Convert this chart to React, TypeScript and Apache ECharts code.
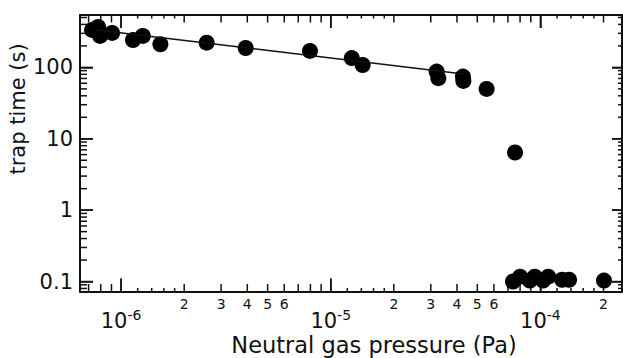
import React, { useEffect, useRef } from "react";
import * as echarts from "echarts";

// ---- data ----
const pressurePa = [
  7.27e-7, 7.77e-7, 7.94e-7, 9.06e-7, 1.14e-6, 1.27e-6, 1.54e-6, 2.56e-6, 3.93e-6,
  7.96e-6, 1.26e-5, 1.42e-5, 3.2e-5, 3.26e-5, 4.27e-5, 4.29e-5, 5.54e-5, 7.57e-5,
  7.4e-5, 8.0e-5, 8.9e-5, 9.4e-5, 1.03e-4, 1.09e-4, 1.27e-4, 1.37e-4, 2.01e-4,
];
const trapTimeS = [
  335, 369, 276, 304, 242, 276, 211, 222, 187,
  170, 135, 108, 87.3, 70.6, 74.3, 64.7, 50, 6.43,
  0.1, 0.117, 0.103, 0.117, 0.103, 0.117, 0.106, 0.106, 0.103,
];
const fitPressurePa = [7.5e-7, 4.3e-5];
const fitTimeS = [337, 81];

const xLimits = [6.37e-7, 2.45e-4];
const yLimits = [0.0725, 542];

const xMajorTicks = [1e-6, 1e-5, 1e-4];
const xMidTicks = [
  7e-7, 8e-7, 9e-7, 2e-6, 3e-6, 4e-6, 5e-6, 6e-6, 7e-6, 8e-6, 9e-6,
  2e-5, 3e-5, 4e-5, 5e-5, 6e-5, 7e-5, 8e-5, 9e-5, 2e-4,
];
const xFineTicks = [
  1.2e-6, 1.4e-6, 1.6e-6, 1.8e-6, 1.2e-5, 1.4e-5, 1.6e-5, 1.8e-5,
  1.2e-4, 1.4e-4, 1.6e-4, 1.8e-4,
];
const xMidLabels = [2e-6, 3e-6, 4e-6, 5e-6, 6e-6, 2e-5, 3e-5, 4e-5, 5e-5, 6e-5, 2e-4];
const yMajorTicks = [0.1, 1, 10, 100];
const yMinorTicks = [
  0.08, 0.09, 0.2, 0.3, 0.4, 0.5, 0.6, 0.7, 0.8, 0.9,
  2, 3, 4, 5, 6, 7, 8, 9, 20, 30, 40, 50, 60, 70, 80, 90, 200, 300, 400, 500,
];

const xTitle = "Neutral gas pressure (Pa)";
const yTitle = "trap time (s)";

// ---- styling ----
const FONT = "DejaVu Sans";
const INK = "#111";
const L = (v: number) => Math.log10(v);
const lg = (a: number[]) => a.map(L);

const TICK_LEN = {
  bottom: { major: 13, mid: 7.5, fine: 3.5 },
  top: { major: 13, mid: 7.5, fine: 3.5 },
  left: { major: 13, minor: 7 },
  right: { major: 10, minor: 4 },
};

function buildOption() {
  const xMin = L(xLimits[0]);
  const xMax = L(xLimits[1]);
  const yMin = L(yLimits[0]);
  const yMax = L(yLimits[1]);

  // tick anchors in data space with pixel direction/length
  const tickX: number[] = [];
  const tickY: number[] = [];
  const tickDX: number[] = [];
  const tickDY: number[] = [];
  const addX = (vals: number[], y: number, dy: number) =>
    vals.forEach((v) => {
      tickX.push(L(v));
      tickY.push(y);
      tickDX.push(0);
      tickDY.push(dy);
    });
  const addY = (vals: number[], x: number, dx: number) =>
    vals.forEach((v) => {
      tickX.push(x);
      tickY.push(L(v));
      tickDX.push(dx);
      tickDY.push(0);
    });
  addX(xMajorTicks, yMin, -TICK_LEN.bottom.major);
  addX(xMidTicks, yMin, -TICK_LEN.bottom.mid);
  addX(xFineTicks, yMin, -TICK_LEN.bottom.fine);
  addX(xMajorTicks, yMax, TICK_LEN.top.major);
  addX(xMidTicks, yMax, TICK_LEN.top.mid);
  addX(xFineTicks, yMax, TICK_LEN.top.fine);
  addY(yMajorTicks, xMin, TICK_LEN.left.major);
  addY(yMinorTicks, xMin, TICK_LEN.left.minor);
  addY(yMajorTicks, xMax, -TICK_LEN.right.major);
  addY(yMinorTicks, xMax, -TICK_LEN.right.minor);

  const axisLineStyle = { show: true, onZero: false, lineStyle: { color: INK, width: 2 } };
  const majorTick = (vals: number[], len: number) => ({
    show: true,
    inside: true,
    length: len,
    customValues: lg(vals),
    lineStyle: { color: INK, width: 1.5 },
  });

  return {
    animation: false,
    grid: { left: 80, right: 1, top: 15, bottom: 66.5 },
    xAxis: [
      {
        type: "value",
        position: "bottom",
        min: xMin,
        max: xMax,
        splitLine: { show: false },
        axisLine: axisLineStyle,
        axisTick: majorTick(xMajorTicks, TICK_LEN.bottom.major),
        axisLabel: {
          show: true,
          customValues: lg(xMajorTicks),
          margin: 16,
          formatter: (v: number) => `{b|10}{s|${Math.round(v)}}`,
          rich: {
            b: { fontFamily: FONT, fontSize: 21, color: INK, lineHeight: 24, verticalAlign: "bottom" },
            s: { fontFamily: FONT, fontSize: 14, color: INK, lineHeight: 3, verticalAlign: "top" },
          },
        },
      },
      {
        type: "value",
        position: "bottom",
        min: xMin,
        max: xMax,
        splitLine: { show: false },
        axisLine: { show: false, onZero: false },
        axisTick: { show: false },
        axisLabel: {
          show: true,
          customValues: lg(xMidLabels),
          margin: 5,
          fontFamily: FONT,
          fontSize: 14,
          color: INK,
          formatter: (v: number) => String(Math.round(Math.pow(10, v - Math.floor(v + 1e-9)))),
        },
      },
      {
        type: "value",
        position: "top",
        min: xMin,
        max: xMax,
        splitLine: { show: false },
        axisLine: axisLineStyle,
        axisTick: majorTick(xMajorTicks, TICK_LEN.top.major),
        axisLabel: { show: false },
      },
    ],
    yAxis: [
      {
        type: "value",
        position: "left",
        min: yMin,
        max: yMax,
        splitLine: { show: false },
        axisLine: axisLineStyle,
        axisTick: majorTick(yMajorTicks, TICK_LEN.left.major),
        axisLabel: {
          show: true,
          customValues: lg(yMajorTicks),
          margin: 7,
          fontFamily: FONT,
          fontSize: 21,
          color: INK,
          formatter: (v: number) => {
            const n = Math.pow(10, Math.round(v));
            return n < 1 ? n.toFixed(1) : String(Math.round(n));
          },
        },
      },
      {
        type: "value",
        position: "right",
        min: yMin,
        max: yMax,
        splitLine: { show: false },
        axisLine: axisLineStyle,
        axisTick: majorTick(yMajorTicks, TICK_LEN.right.major),
        axisLabel: { show: false },
      },
    ],
    series: [
      {
        type: "line",
        xAxisIndex: 0,
        yAxisIndex: 0,
        data: fitPressurePa.map((p, i) => [L(p), L(fitTimeS[i])]),
        symbol: "none",
        lineStyle: { color: INK, width: 1.5 },
      },
      {
        type: "scatter",
        xAxisIndex: 0,
        yAxisIndex: 0,
        data: pressurePa.map((p, i) => [L(p), L(trapTimeS[i])]),
        symbolSize: 16,
        itemStyle: { color: "#000", opacity: 1 },
      },
      {
        type: "custom",
        xAxisIndex: 0,
        yAxisIndex: 0,
        data: tickX.map((x, i) => [x, tickY[i]]),
        renderItem: (params: any, api: any) => {
          const i = params.dataIndex;
          const p = api.coord([api.value(0), api.value(1)]);
          return {
            type: "line",
            shape: { x1: p[0], y1: p[1], x2: p[0] + tickDX[i], y2: p[1] + tickDY[i] },
            style: { stroke: INK, lineWidth: 1.5 },
          };
        },
      },
    ],
    graphic: [
      {
        type: "text",
        x: 18,
        y: 109,
        rotation: Math.PI / 2,
        style: {
          text: yTitle,
          fontFamily: FONT,
          fontSize: 21,
          fill: INK,
          textAlign: "center",
          textVerticalAlign: "middle",
        },
      },
      {
        type: "text",
        x: 374,
        y: 344.5,
        style: {
          text: xTitle,
          fontFamily: FONT,
          fontSize: 22.5,
          fill: INK,
          textAlign: "center",
          textVerticalAlign: "middle",
        },
      },
    ],
  };
}

export default function App() {
  const ref = useRef<HTMLDivElement>(null);
  useEffect(() => {
    if (!ref.current) return;
    const chart = echarts.init(ref.current, null, { renderer: "svg" });
    chart.setOption(buildOption() as any);
    return () => chart.dispose();
  }, []);
  return (
    <div
      ref={ref}
      style={{ position: "fixed", left: 0, top: 0, width: 623, height: 358, background: "#fff" }}
    />
  );
}
